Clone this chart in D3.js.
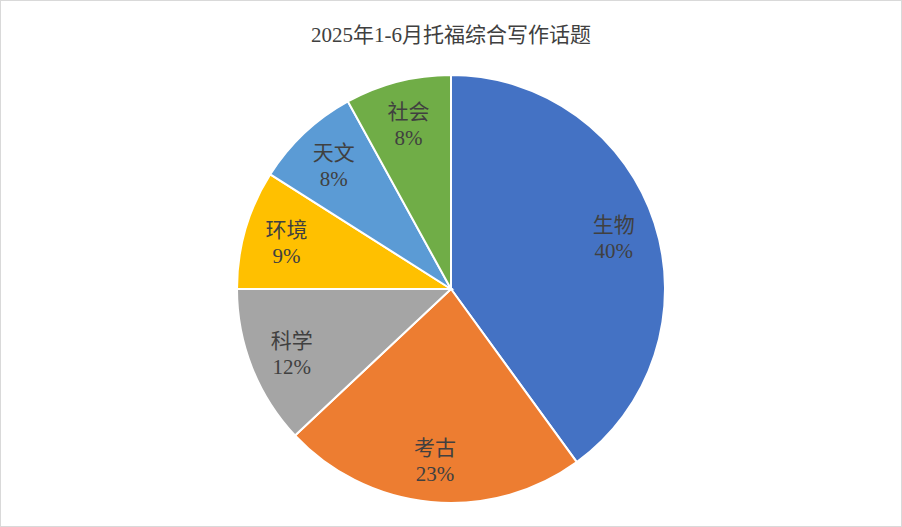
<!DOCTYPE html>
<html>
<head>
<meta charset="utf-8">
<script src="https://cdn.jsdelivr.net/npm/d3@7"></script>
<style>
  body { margin: 0; background: #fff; }
  svg { display: block; }
</style>
</head>
<body>
<div id="chart"></div>
<script>
// topic names and their share (%)
var categories = ["生物", "考古", "科学", "环境", "天文", "社会"];
var values = [40, 23, 12, 9, 8, 8];
var colors = ["#4472C4", "#ED7D31", "#A5A5A5", "#FFC000", "#5B9BD5", "#70AD47"];
var title = "2025年1-6月托福综合写作话题";

var width = 902, height = 527;
var cx = 451, cy = 289, radius = 214;
var font = "'Liberation Serif', 'Noto Sans CJK SC', serif";

var svg = d3.select("#chart").append("svg")
    .attr("width", width)
    .attr("height", height);

// outer border
svg.append("rect")
    .attr("x", 0.5).attr("y", 0.5)
    .attr("width", width - 1).attr("height", height - 1)
    .attr("fill", "#fff")
    .attr("stroke", "#d9d9d9");

svg.append("text")
    .attr("x", width / 2).attr("y", 42)
    .attr("text-anchor", "middle")
    .attr("font-family", font)
    .attr("font-size", 21)
    .attr("fill", "#404040")
    .text(title);

var data = categories.map(function (c, i) { return { name: c, value: values[i], color: colors[i] }; });

var pie = d3.pie().sort(null).value(function (d) { return d.value; });
var arc = d3.arc().innerRadius(0).outerRadius(radius);
var labelArc = d3.arc().innerRadius(radius * 0.8).outerRadius(radius * 0.8);
var total = d3.sum(values);

var g = svg.append("g").attr("transform", "translate(" + cx + "," + cy + ")");

g.selectAll("path")
    .data(pie(data))
    .enter()
    .append("path")
    .attr("d", arc)
    .attr("fill", function (d) { return d.data.color; })
    .attr("stroke", "#fff")
    .attr("stroke-width", 2);

var labels = g.selectAll("text")
    .data(pie(data))
    .enter()
    .append("text")
    .attr("transform", function (d) { return "translate(" + labelArc.centroid(d) + ")"; })
    .attr("text-anchor", "middle")
    .attr("font-family", font)
    .attr("font-size", 21)
    .attr("fill", "#404040");

labels.append("tspan")
    .attr("x", 0).attr("dy", "-0.2em")
    .text(function (d) { return d.data.name; });
labels.append("tspan")
    .attr("x", 0).attr("dy", "1.25em")
    .text(function (d) { return Math.round(d.data.value / total * 100) + "%"; });
</script>
</body>
</html>
